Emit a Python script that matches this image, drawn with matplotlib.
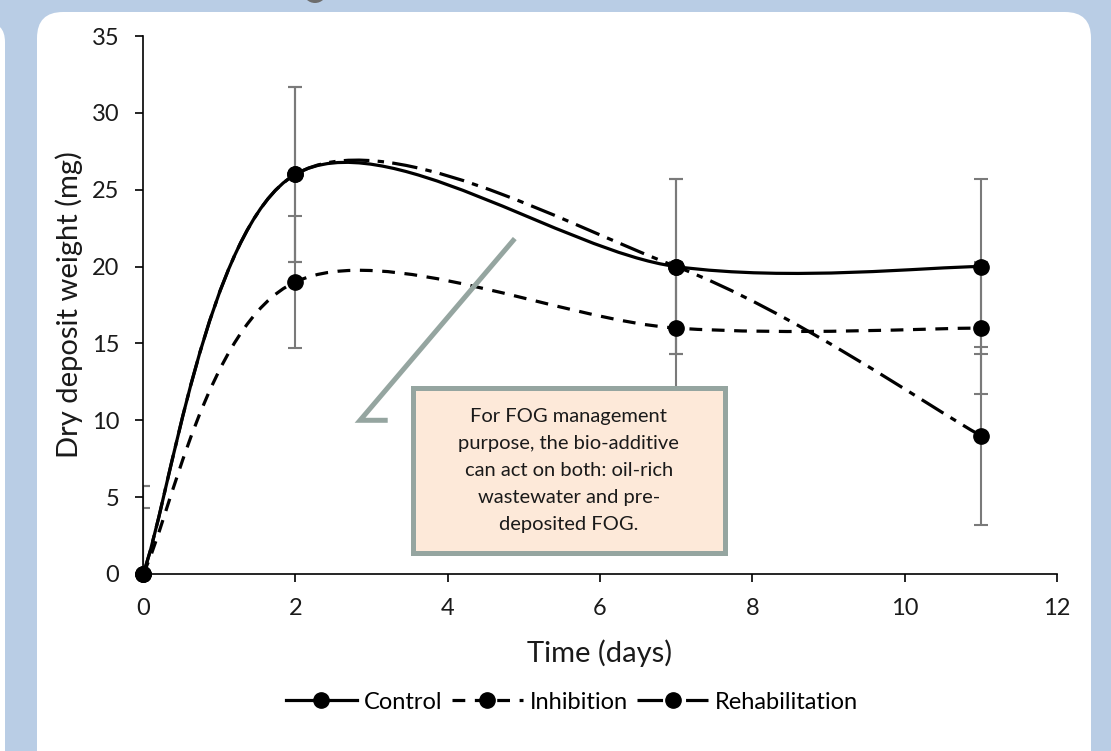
import matplotlib
matplotlib.use("Agg")
import matplotlib.pyplot as plt
from matplotlib.path import Path
from matplotlib.patches import PathPatch, Rectangle, FancyBboxPatch, Circle
from matplotlib.lines import Line2D
from matplotlib.transforms import IdentityTransform

plt.rcParams['font.family'] = ['Lato', 'DejaVu Sans']

# data
days = [0, 2, 7, 11]
control = [0, 26, 20, 20]
inhibition = [0, 19, 16, 16]
rehab = [0, 26, 20, 9]
control_err = [5.7, 5.7, 5.7, 5.7]
inhibition_err = [4.3, 4.3, 4.3, 4.3]
rehab_err = [5.7, 5.7, 5.7, 5.8]
names = ["Control", "Inhibition", "Rehabilitation"]

note = ("For FOG management\npurpose, the bio-additive\ncan act on both: oil-rich\n"
        "wastewater and pre-\ndeposited FOG.")


def smooth_path(xs, ys):
    # Excel-like smoothed line: cubic Bezier segments (Catmull-Rom control points)
    pts = list(zip(xs, ys))
    n = len(pts)
    verts = [pts[0]]
    codes = [Path.MOVETO]
    for i in range(n - 1):
        p0 = pts[i - 1] if i > 0 else pts[i]
        p1 = pts[i]
        p2 = pts[i + 1]
        p3 = pts[i + 2] if i + 2 < n else pts[i + 1]
        c1 = (p1[0] + (p2[0] - p0[0]) / 6, p1[1] + (p2[1] - p0[1]) / 6)
        c2 = (p2[0] - (p3[0] - p1[0]) / 6, p2[1] - (p3[1] - p1[1]) / 6)
        verts += [c1, c2, p2]
        codes += [Path.CURVE4] * 3
    return Path(verts, codes)


fig = plt.figure(figsize=(11.11, 7.51), dpi=100, facecolor='#b9cde5')

# white panels behind the chart
fig.patches.append(FancyBboxPatch((37, -40), 1054, 779, boxstyle="round,pad=0,rounding_size=26",
                                  transform=IdentityTransform(), facecolor='white', edgecolor='none',
                                  figure=fig, zorder=-2))
fig.patches.append(FancyBboxPatch((-40, -40), 45, 769, boxstyle="round,pad=0,rounding_size=20",
                                  transform=IdentityTransform(), facecolor='white', edgecolor='none',
                                  figure=fig, zorder=-2))
fig.patches.append(Circle((315, 760), 12, transform=IdentityTransform(), facecolor='#6d6d6d',
                          edgecolor='none', figure=fig, zorder=-2))

ax = fig.add_axes([0.1287, 0.2357, 0.8227, 0.7163])
ax.set_facecolor('none')
ax.set_zorder(1)

styles = ['-', (0, (4, 3)), (0, (8, 2.6, 2, 2.6))]
series = [control, inhibition, rehab]
errs = [control_err, inhibition_err, rehab_err]

for vals, err in zip(series, errs):
    ax.errorbar(days, vals, yerr=err, fmt='none', ecolor='#7a7a7a', elinewidth=1.5,
                capsize=5, capthick=1.5, zorder=2)

for vals, ls in zip(series, styles):
    ax.add_patch(PathPatch(smooth_path(days, vals), fill=False, edgecolor='black',
                           linewidth=2.3, linestyle=ls, capstyle='butt', zorder=3))
    ax.plot(days, vals, linestyle='none', marker='o', markersize=11, color='black',
            zorder=4, clip_on=False)

# callout
ax.plot([4.86, 2.85, 3.18], [21.7, 10.0, 10.0], color='#95a5a0', linewidth=3.6,
        solid_joinstyle='miter', zorder=5)
ax.add_patch(Rectangle((3.54, 1.37), 4.1, 10.73, facecolor='#fde9d9', edgecolor='#95a5a0',
                       linewidth=3.6, zorder=5))
ax.text(5.59, 6.75, note, ha='center', va='center', fontsize=14.5, linespacing=1.72,
        color='#1a1a1a', zorder=6)

ax.set_xlim(0, 12)
ax.set_ylim(0, 35)
ax.set_xticks(range(0, 13, 2))
ax.set_yticks(range(0, 36, 5))
for s in ['top', 'right']:
    ax.spines[s].set_visible(False)
for s in ['left', 'bottom']:
    ax.spines[s].set_linewidth(1.2)
ax.tick_params(axis='both', direction='out', length=6, width=1.2, labelsize=17,
               labelcolor='#1a1a1a')
ax.tick_params(axis='y', pad=11)
ax.tick_params(axis='x', pad=11)
ax.set_xlabel("Time (days)", fontsize=21, labelpad=15, color='#1a1a1a')
ax.set_ylabel("Dry deposit weight (mg)", fontsize=21, labelpad=6, color='#1a1a1a')

handles = [Line2D([], [], color='black', linewidth=2.3, linestyle=ls, marker='o',
                  markersize=11) for ls in styles]
fig.legend(handles, names, loc='center', bbox_to_anchor=(0.515, 0.065), ncol=3,
           frameon=False, fontsize=17, handlelength=3.0, columnspacing=0.4,
           handletextpad=0.3)

fig.savefig('out.png', dpi=100, facecolor=fig.get_facecolor())
